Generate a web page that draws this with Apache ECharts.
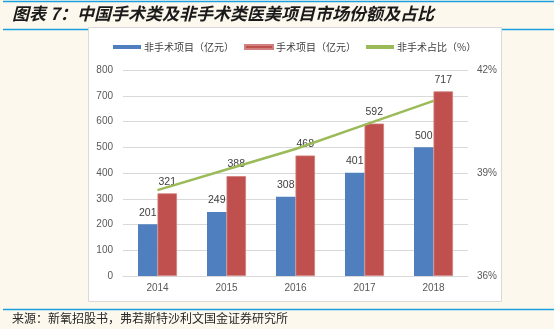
<!DOCTYPE html>
<html>
<head>
<meta charset="utf-8">
<script src="https://cdn.jsdelivr.net/npm/echarts@6/dist/echarts.min.js"></script>
<style>
html,body{margin:0;padding:0;background:#fdf8ee;}
#c{width:554px;height:329px;}
</style>
</head>
<body>
<div id="c"></div>
<script>
var categories = ['2014', '2015', '2016', '2017', '2018'];
var nonSurgical = [201, 249, 308, 401, 500];
var surgical = [321, 388, 468, 592, 717];
var nonSurgicalShare = [38.5, 39.1, 39.7, 40.4, 41.1];
var seriesNames = ['非手术项目（亿元）', '手术项目（亿元）', '非手术占比（%）'];
var titleText = '图表 7：中国手术类及非手术类医美项目市场份额及占比';
var sourceText = '来源：新氧招股书，弗若斯特沙利文国金证券研究所';

var chart = echarts.init(document.getElementById('c'), null, {renderer: 'canvas'});
var cjk = '"Noto Sans CJK SC", sans-serif';
var num = '"Liberation Sans", Arial, sans-serif';
chart.setOption({
  backgroundColor: '#fdf8ee',
  animation: false,
  graphic: [
    {type: 'line', z: -20, shape: {x1: 3, y1: 1.5, x2: 554, y2: 1.5}, style: {stroke: '#1aa0e0', lineWidth: 1.5}},
    {type: 'line', z: -20, shape: {x1: 3, y1: 29.5, x2: 554, y2: 29.5}, style: {stroke: '#1aa0e0', lineWidth: 1.5}},
    {type: 'line', z: -20, shape: {x1: 3, y1: 309.5, x2: 554, y2: 309.5}, style: {stroke: '#1aa0e0', lineWidth: 1.5}},
    {type: 'rect', z: -10, shape: {x: 88.5, y: 27.5, width: 413, height: 274}, style: {fill: '#ffffff', stroke: '#d9d9d9', lineWidth: 1}},
    {type: 'text', z: 10, left: 12, top: 5, style: {text: titleText, font: 'italic bold 17px ' + cjk, fill: '#1a1a1a'}},
    {type: 'text', z: 10, left: 12, top: 312, style: {text: sourceText, font: '12px ' + cjk, fill: '#262626'}}
  ],
  legend: {
    left: 113,
    top: 42,
    padding: 0,
    icon: 'rect',
    itemWidth: 28,
    itemHeight: 4,
    itemGap: 10,
    textStyle: {fontFamily: cjk, fontSize: 10, color: '#404040', padding: [0, 0, 0, -2]},
    data: seriesNames
  },
  grid: {left: 123, right: 86, top: 70, bottom: 53, containLabel: false},
  xAxis: {
    type: 'category',
    data: categories,
    axisLine: {lineStyle: {color: '#d9d9d9'}},
    axisTick: {show: false},
    axisLabel: {fontFamily: num, fontSize: 10, color: '#595959', margin: 7}
  },
  yAxis: [
    {
      type: 'value', min: 0, max: 800, interval: 100,
      axisLine: {show: false}, axisTick: {show: false},
      axisLabel: {fontFamily: num, fontSize: 10, color: '#595959', margin: 10},
      splitLine: {lineStyle: {color: '#d9d9d9', width: 1}}
    },
    {
      type: 'value', min: 36, max: 42, interval: 3,
      axisLine: {show: false}, axisTick: {show: false},
      axisLabel: {fontFamily: num, fontSize: 10, color: '#595959', margin: 9, formatter: '{value}%'},
      splitLine: {show: false}
    }
  ],
  series: [
    {
      name: seriesNames[0], type: 'bar', data: nonSurgical, barWidth: 19.5, barGap: '0%',
      itemStyle: {color: '#4f7fbf'},
      label: {show: true, position: 'top', distance: 6, fontFamily: num, fontSize: 10.5, color: '#404040'}
    },
    {
      name: seriesNames[1], type: 'bar', data: surgical, barWidth: 19.5, barGap: '0%',
      itemStyle: {color: '#c0504d', borderColor: '#d0807e', borderWidth: 0.8},
      label: {show: true, position: 'top', distance: 6, fontFamily: num, fontSize: 10.5, color: '#404040'}
    },
    {
      name: seriesNames[2], type: 'line', yAxisIndex: 1, data: nonSurgicalShare,
      showSymbol: false, symbol: 'none',
      lineStyle: {color: '#9bbb59', width: 2.5},
      itemStyle: {color: '#9bbb59'},
      z: 5
    }
  ]
});
</script>
</body>
</html>
